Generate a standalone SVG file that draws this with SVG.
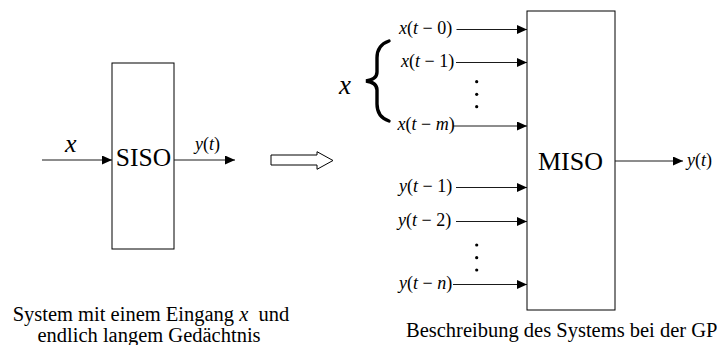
<svg xmlns="http://www.w3.org/2000/svg" width="717" height="345" viewBox="0 0 717 345">
<style>
text { font-family: "Liberation Serif", "Times New Roman", serif; fill: #000; }
.it { font-style: italic; }
.box { fill: #fff; stroke: #000; stroke-width: 1; }
.lbl { font-size: 18px; }
.conn { stroke: #1a1a1a; stroke-width: 1; fill: none; }
.cap { font-size: 20.5px; }
</style>
<defs>
<marker id="ah" viewBox="0 0 10 9" refX="10" refY="4.5" markerWidth="10" markerHeight="9" markerUnits="userSpaceOnUse" orient="auto">
<path d="M0,0 L10,4.5 L0,9 Z" fill="#000"/>
</marker>
</defs>

<g id="siso">
<rect class="box" x="112" y="63" width="62" height="186"/>
<text x="143.5" y="166" font-size="25.5" text-anchor="middle">SISO</text>
</g>

<g id="miso">
<rect class="box" x="527" y="11" width="88" height="299"/>
<text x="570.5" y="170" font-size="26" text-anchor="middle">MISO</text>
</g>

<g id="transform-arrow">
<polygon points="271,155 317,155 317,151.7 333,160.5 317,169.3 317,165 271,165" fill="#fff" stroke="#000" stroke-width="1"/>
</g>

<g id="connectors">
<line class="conn" x1="42" y1="160" x2="112" y2="160" marker-end="url(#ah)"/>
<line class="conn" x1="174" y1="160" x2="235" y2="160" marker-end="url(#ah)"/>
<line class="conn" x1="456.5" y1="29.5" x2="527" y2="29.5" marker-end="url(#ah)"/>
<line class="conn" x1="456" y1="62.5" x2="527" y2="62.5" marker-end="url(#ah)"/>
<line class="conn" x1="453" y1="126" x2="527" y2="126" marker-end="url(#ah)"/>
<line class="conn" x1="456" y1="187.5" x2="527" y2="187.5" marker-end="url(#ah)"/>
<line class="conn" x1="456" y1="221.5" x2="527" y2="221.5" marker-end="url(#ah)"/>
<line class="conn" x1="453" y1="284.5" x2="527" y2="284.5" marker-end="url(#ah)"/>
<line class="conn" x1="615" y1="161" x2="683" y2="161" marker-end="url(#ah)"/>
</g>

<g id="siso-labels">
<text class="it" x="65" y="152" font-size="26">x</text>
<text class="lbl" x="195" y="150"><tspan class="it">y</tspan>(<tspan class="it">t</tspan>)</text>
</g>

<g id="miso-inputs">
<text class="it" x="339" y="94" font-size="27">x</text>
<path d="M389,41 C380,44 377,50 377,58 L377,72 C377,77 373,80 366,81 C373,82 377,85 377,90 L377,104 C377,112 380,118 389,121" fill="none" stroke="#000" stroke-width="3.4" stroke-linecap="round"/>
<text class="lbl" x="399" y="33.5"><tspan class="it">x</tspan>(<tspan class="it">t</tspan> − 0)</text>
<text class="lbl" x="401" y="66.5"><tspan class="it">x</tspan>(<tspan class="it">t</tspan> − 1)</text>
<text class="lbl" x="397.5" y="130"><tspan class="it">x</tspan>(<tspan class="it">t</tspan> − <tspan class="it">m</tspan>)</text>
<circle cx="476.7" cy="81.7" r="1.6"/>
<circle cx="476.7" cy="94.3" r="1.6"/>
<circle cx="476.7" cy="106.7" r="1.6"/>
<text class="lbl" x="399" y="192"><tspan class="it">y</tspan>(<tspan class="it">t</tspan> − 1)</text>
<text class="lbl" x="398" y="226"><tspan class="it">y</tspan>(<tspan class="it">t</tspan> − 2)</text>
<text class="lbl" x="399" y="289"><tspan class="it">y</tspan>(<tspan class="it">t</tspan> − <tspan class="it">n</tspan>)</text>
<circle cx="476.7" cy="245" r="1.6"/>
<circle cx="476.7" cy="257.7" r="1.6"/>
<circle cx="476.7" cy="270" r="1.6"/>
<text class="lbl" x="687" y="166"><tspan class="it">y</tspan>(<tspan class="it">t</tspan>)</text>
</g>

<g id="captions">
<text class="cap" x="151" y="321" text-anchor="middle">System mit einem Eingang <tspan class="it">x</tspan>&#160; und</text>
<text class="cap" x="149" y="342" text-anchor="middle">endlich langem Gedächtnis</text>
<text class="cap" x="406" y="337">Beschreibung des Systems bei der GP</text>
</g>
</svg>
